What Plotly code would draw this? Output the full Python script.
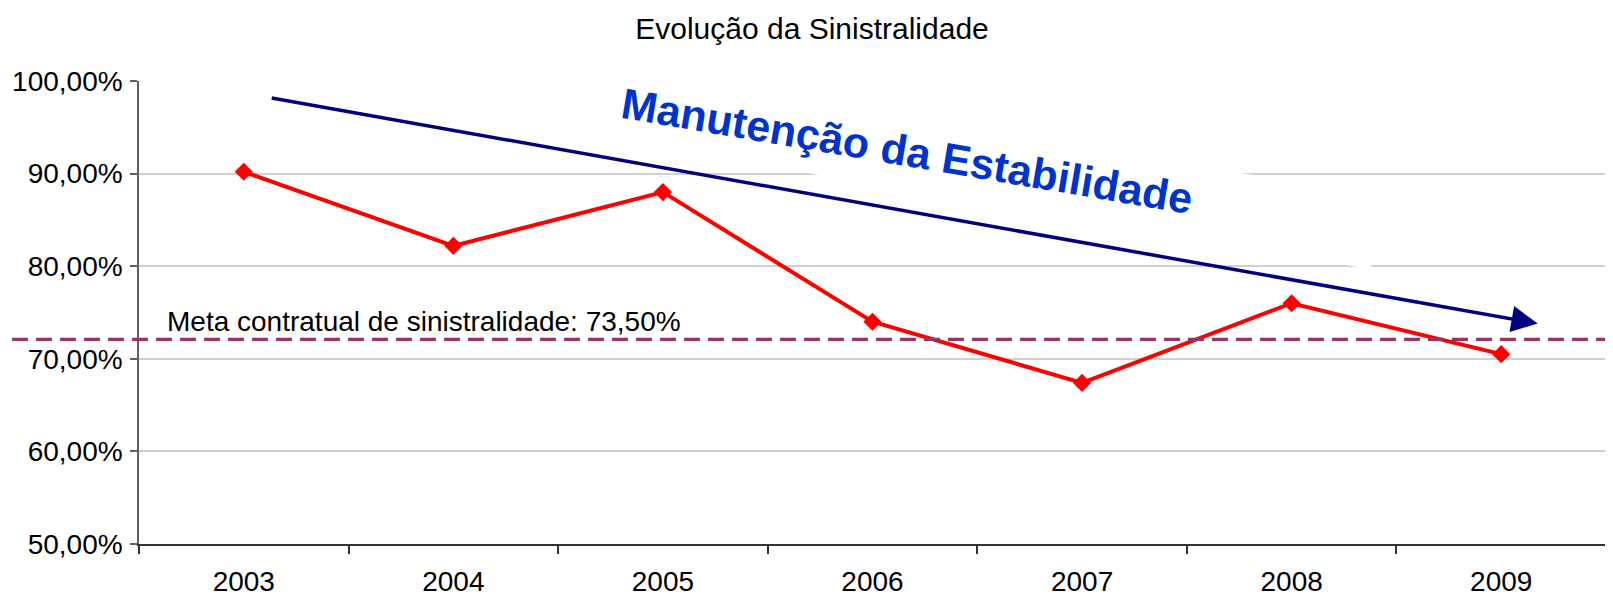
import plotly.graph_objects as go

# ---- data ----
years = ["2003", "2004", "2005", "2006", "2007", "2008", "2009"]
sinistralidade = [90.2, 82.2, 88.0, 74.0, 67.4, 76.0, 70.5]
y_tick_values = [50, 60, 70, 80, 90, 100]
y_tick_labels = ["50,00%", "60,00%", "70,00%", "80,00%", "90,00%", "100,00%"]
meta_level = 72.1
meta_label = "Meta contratual de sinistralidade: 73,50%"
title_text = "Evolução da Sinistralidade"
trend_text = "Manutenção da Estabilidade"
trend_start = [0.126, 98.2]   # (category index, %)
trend_end = [6.174, 73.8]

FONT = "Liberation Sans, Arial, sans-serif"
W, H = 1605, 588   # page body has an 8px margin

fig = go.Figure()
fig.add_trace(go.Scatter(
    x=list(range(len(years))), y=sinistralidade, mode="lines+markers",
    line=dict(color="#FF0000", width=4),
    marker=dict(symbol="diamond", size=14, color="#FF0000"),
    hoverinfo="skip", showlegend=False,
))

annotations = [
    # white WordArt box that breaks the gridlines
    dict(x=3.557, y=90.74, xref="x", yref="y", text=" ", showarrow=False,
         width=783, height=70, bgcolor="white", textangle=9.7,
         font=dict(size=10)),
    dict(x=3.165, y=92.4, xref="x", yref="y", text=trend_text, showarrow=False,
         textangle=9.6, font=dict(family=FONT, size=43, color="#0033CC", weight="bold"),
         xanchor="center", yanchor="middle"),
    # trend arrow
    dict(x=trend_end[0], y=trend_end[1], ax=trend_start[0], ay=trend_start[1],
         xref="x", yref="y", axref="x", ayref="y", text="", showarrow=True,
         arrowhead=2, arrowsize=1.5, arrowwidth=3.5, arrowcolor="#000080",
         standoff=0),
    dict(x=-0.376, y=74.0, xref="x", yref="y", text=meta_label, showarrow=False,
         xanchor="left", yanchor="middle",
         font=dict(family=FONT, size=28, color="black")),
]

shapes = [
    dict(type="line", xref="paper", yref="y", x0=-0.0866, x1=1.006,
         y0=meta_level, y1=meta_level, layer="above",
         line=dict(color="#993366", width=3.2, dash="16px,8px")),
]

fig.update_layout(
    width=W, height=H,
    margin=dict(l=131, r=7, t=73, b=52),
    paper_bgcolor="white", plot_bgcolor="white",
    title=dict(text=title_text, x=(812 - 8) / W, xref="container", xanchor="center",
               y=1 - (28 - 8) / H, yref="container", yanchor="middle",
               font=dict(family=FONT, size=30, color="black")),
    font=dict(family=FONT, color="black"),
    annotations=annotations, shapes=shapes,
    showlegend=False,
)
fig.update_xaxes(
    type="linear", range=[-0.5, 6.5], automargin=False,
    tickmode="array", tickvals=list(range(len(years))), ticktext=years,
    showgrid=False, showline=True, linecolor="#333333", linewidth=1.5,
    ticks="", tickfont=dict(size=28, color="black"), ticklabelstandoff=12,
    zeroline=False, minor=dict(tickmode="array", tickvals=[i - 0.5 for i in range(len(years) + 1)],
                               ticks="outside", ticklen=8, tickcolor="#333333", tickwidth=1.5,
                               showgrid=False),
)
fig.update_yaxes(
    range=[50, 100], automargin=False, tickmode="array", tickvals=y_tick_values, ticktext=y_tick_labels,
    showgrid=True, gridcolor="#D0D0D0", gridwidth=1.5,
    showline=True, linecolor="#606060", linewidth=1.5,
    ticks="outside", ticklen=7, tickcolor="#606060", tickwidth=1.5,
    tickfont=dict(size=28, color="black"), ticklabelstandoff=2, zeroline=False,
)

fig.write_html("out.html")
